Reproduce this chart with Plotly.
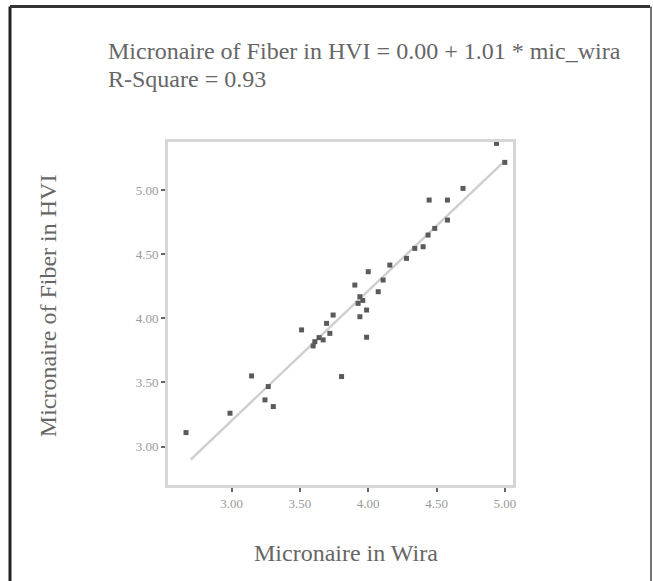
import numpy as np
import plotly.graph_objects as go

# Micronaire readings
mic_wira = [4.939, 5.000, 4.694, 4.446, 4.580, 4.580, 4.487, 4.438, 4.402, 4.341,
            4.280, 4.158, 4.000, 4.109, 3.902, 4.073, 3.939, 3.926, 3.988, 3.939,
            3.743, 3.695, 3.512, 3.719, 3.670, 3.609, 3.597, 3.988, 3.805, 3.146,
            3.268, 3.244, 3.305, 2.988, 2.666, 3.960, 3.640]
mic_hvi = [5.365, 5.217, 5.014, 4.923, 4.923, 4.767, 4.702, 4.650, 4.559, 4.546,
           4.468, 4.416, 4.364, 4.299, 4.260, 4.208, 4.169, 4.117, 4.065, 4.013,
           4.026, 3.961, 3.910, 3.883, 3.832, 3.818, 3.785, 3.853, 3.546, 3.551,
           3.468, 3.364, 3.312, 3.260, 3.109, 4.140, 3.850]

x_ticks = [3.0, 3.5, 4.0, 4.5, 5.0]
x_tick_labels = ["3.00", "3.50", "4.00", "4.50", "5.00"]
y_ticks = [3.0, 3.5, 4.0, 4.5, 5.0]
y_tick_labels = ["3.00", "3.50", "4.00", "4.50", "5.00"]

title_line1 = "Micronaire of Fiber in HVI = 0.00 + 1.01 * mic_wira"
title_line2 = "R-Square = 0.93"
x_title = "Micronaire in Wira"
y_title = "Micronaire of Fiber in HVI"

xa = np.array(mic_wira)
ya = np.array(mic_hvi)
slope, intercept = np.polyfit(xa, ya, 1)
line_x = np.array([2.70, xa.max()])
line_y = intercept + slope * line_x

fig = go.Figure()
fig.add_trace(go.Scatter(x=line_x, y=line_y, mode="lines",
                         line=dict(color="#cfcfcf", width=2.5), hoverinfo="skip",
                         showlegend=False))
fig.add_trace(go.Scatter(x=mic_wira, y=mic_hvi, mode="markers",
                         marker=dict(symbol="square", size=5, color="#5a5a5a"),
                         showlegend=False))

serif = "Liberation Serif, Times New Roman, serif"
PW, PH = 345.0, 343.3
def px(xp):
    return (xp - 168) / PW
def py(yp):
    return (485 - yp) / PH

fig.update_layout(
    width=653, height=581,
    margin=dict(l=168, r=140, t=142, b=96),
    paper_bgcolor="white", plot_bgcolor="white",
    font=dict(family=serif, color="#555555"),
    xaxis=dict(range=[2.534, 5.06], tickvals=x_ticks, ticktext=x_tick_labels,
               showgrid=False, zeroline=False, showline=True, mirror=True,
               linecolor="#d6d6d6", linewidth=3,
               ticks="outside", ticklen=4, tickwidth=2, tickcolor="#666666",
               tickfont=dict(size=13, color="#9a9a9a")),
    yaxis=dict(range=[2.70, 5.376], tickvals=y_ticks, ticktext=y_tick_labels,
               showgrid=False, zeroline=False, showline=True, mirror=True,
               linecolor="#d6d6d6", linewidth=3,
               ticks="outside", ticklen=4, tickwidth=2, tickcolor="#666666",
               tickfont=dict(size=13, color="#9a9a9a")),
    annotations=[
        dict(text=title_line1, xref="paper", yref="paper", x=px(106), y=py(51),
             xanchor="left", yanchor="middle", showarrow=False,
             font=dict(size=24, color="#666666")),
        dict(text=title_line2, xref="paper", yref="paper", x=px(106), y=py(79),
             xanchor="left", yanchor="middle", showarrow=False,
             font=dict(size=24, color="#666666")),
        dict(text=x_title, xref="paper", yref="paper", x=px(346), y=py(553),
             xanchor="center", yanchor="middle", showarrow=False,
             font=dict(size=24, color="#666666")),
        dict(text=y_title, xref="paper", yref="paper", x=px(48), y=py(306),
             xanchor="center", yanchor="middle", showarrow=False, textangle=-90,
             font=dict(size=24, color="#666666")),
    ],
    shapes=[
        dict(type="line", xref="paper", yref="paper", x0=px(10), x1=px(10),
             y0=py(6), y1=py(585), line=dict(color="#222222", width=3)),
        dict(type="line", xref="paper", yref="paper", x0=px(10), x1=px(650),
             y0=py(6), y1=py(6), line=dict(color="#333333", width=3)),
        dict(type="line", xref="paper", yref="paper", x0=px(651), x1=px(651),
             y0=py(6), y1=py(585), line=dict(color="#777777", width=2)),
    ],
)

fig.write_html("out.html")
